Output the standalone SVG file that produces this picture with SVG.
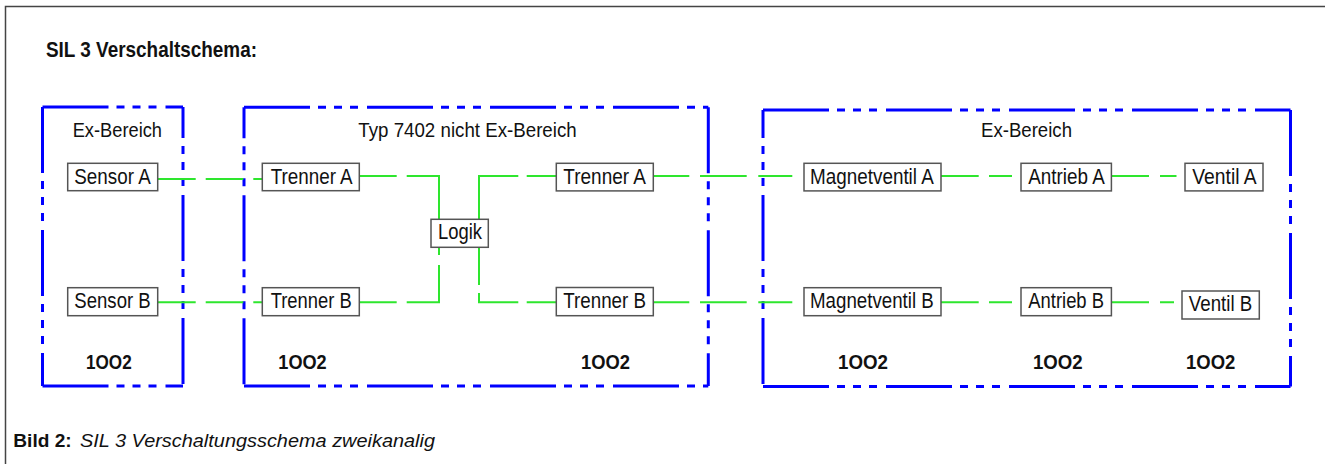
<svg xmlns="http://www.w3.org/2000/svg" width="1325" height="464" viewBox="0 0 1325 464">
<style>
text{font-family:"Liberation Sans",Arial,sans-serif;fill:#111}
.t{font-size:22px}
.r{font-size:21px}
.k{font-size:20.5px;font-weight:bold}
.node{fill:#fff;stroke:#555;stroke-width:1.5}
.zone{stroke:#0000ff;stroke-width:3;fill:none;stroke-dasharray:66 8 8 8 8 8 8 9}
.wire{stroke:#2ee62e;stroke-width:2;fill:none}
</style>
<rect x="0" y="0" width="1325" height="464" fill="#fff"/>
<path d="M5.5,464 V6.5 H1325" fill="none" stroke="#444" stroke-width="1.5"/>
<text x="46" y="56.7" style="font-size:21.5px;font-weight:bold" textLength="211" lengthAdjust="spacingAndGlyphs">SIL 3 Verschaltschema:</text>

<g id="zone-ex-left">
<line class="zone" x1="42.5" y1="107" x2="183" y2="107"/>
<line class="zone" x1="42.5" y1="107" x2="42.5" y2="386"/>
<line class="zone" x1="183" y1="107" x2="183" y2="386" stroke-dashoffset="35"/>
<line class="zone" x1="42.5" y1="386" x2="183" y2="386"/>
<text class="r" x="72.7" y="136.7" textLength="89.3" lengthAdjust="spacingAndGlyphs">Ex-Bereich</text>
<text class="k" x="86" y="369.3" textLength="45.7" lengthAdjust="spacingAndGlyphs">1OO2</text>
</g>

<g id="zone-7402">
<line class="zone" x1="244" y1="107.3" x2="708.3" y2="107.3"/>
<line class="zone" x1="244" y1="107.3" x2="244" y2="386" stroke-dashoffset="35"/>
<line class="zone" x1="708.3" y1="107.3" x2="708.3" y2="386"/>
<line class="zone" x1="244" y1="386" x2="708.3" y2="386"/>
<text class="r" x="358.3" y="136.7" textLength="218.4" lengthAdjust="spacingAndGlyphs">Typ 7402 nicht Ex-Bereich</text>
<text class="k" x="278.3" y="369.3" textLength="48.4" lengthAdjust="spacingAndGlyphs">1OO2</text>
<text class="k" x="581" y="369.3" textLength="49" lengthAdjust="spacingAndGlyphs">1OO2</text>
</g>

<g id="zone-ex-right">
<line class="zone" x1="763" y1="110" x2="1290.5" y2="110"/>
<line class="zone" x1="763" y1="110" x2="763" y2="386.5" stroke-dashoffset="38"/>
<line class="zone" x1="1290.5" y1="110" x2="1290.5" y2="386.5"/>
<line class="zone" x1="763" y1="386.5" x2="1290.5" y2="386.5"/>
<text class="r" x="981" y="136.7" textLength="91" lengthAdjust="spacingAndGlyphs">Ex-Bereich</text>
<text class="k" x="838" y="369.3" textLength="50" lengthAdjust="spacingAndGlyphs">1OO2</text>
<text class="k" x="1033" y="369.3" textLength="49.7" lengthAdjust="spacingAndGlyphs">1OO2</text>
<text class="k" x="1186" y="369.3" textLength="49.3" lengthAdjust="spacingAndGlyphs">1OO2</text>
</g>

<g id="connectors">
<path class="wire" d="M158,179 H195.7 M205.7,179 H243.3 M253.3,179 H262.3"/>
<path class="wire" d="M158,302.3 H195.7 M205.7,302.3 H243.3 M253.3,302.3 H262.3"/>
<path class="wire" d="M359.3,176 H396.7 M406.7,176 H439 V219.3"/>
<path class="wire" d="M359.3,302.3 H396.7 M406.7,302.3 H439 V265 M439,255 V247.3"/>
<path class="wire" d="M479,219.3 V176 H518.3 M526.7,176 H556.3"/>
<path class="wire" d="M479,247.3 V285 M479,293 V302.3 H518.3 M526.7,302.3 H556.3"/>
<path class="wire" d="M653.3,176 H689.3 M700,176 H746.7 M758.3,176 H792.3"/>
<path class="wire" d="M653.3,302.3 H689.3 M700,302.3 H746.7 M758.3,302.3 H792.3"/>
<path class="wire" d="M940.8,176 H978.7 M989,176 H1012"/>
<path class="wire" d="M1111.4,176 H1149 M1160,176 H1176.5"/>
<path class="wire" d="M940.8,302.3 H978.7 M989,302.3 H1012"/>
<path class="wire" d="M1111.4,302.3 H1149 M1160,302.3 H1174"/>
</g>

<g id="sensor-a"><rect class="node" x="67.7" y="163.3" width="90" height="27.4"/><text class="t" x="74.3" y="183.8" textLength="76.4" lengthAdjust="spacingAndGlyphs">Sensor A</text></g>
<g id="sensor-b"><rect class="node" x="67.7" y="287.7" width="90" height="28"/><text class="t" x="74.3" y="308" textLength="76.4" lengthAdjust="spacingAndGlyphs">Sensor B</text></g>
<g id="trenner-a1"><rect class="node" x="262.3" y="163.3" width="97" height="27.4"/><text class="t" x="270.7" y="183.8" textLength="82" lengthAdjust="spacingAndGlyphs">Trenner A</text></g>
<g id="trenner-b1"><rect class="node" x="262.3" y="287.7" width="97" height="28"/><text class="t" x="270.7" y="308" textLength="81" lengthAdjust="spacingAndGlyphs">Trenner B</text></g>
<g id="logik"><rect class="node" x="431" y="219.3" width="57.3" height="28"/><text class="t" x="438" y="239.3" textLength="44" lengthAdjust="spacingAndGlyphs">Logik</text></g>
<g id="trenner-a2"><rect class="node" x="556.3" y="163.3" width="97" height="27.6"/><text class="t" x="563.3" y="183.8" textLength="82.7" lengthAdjust="spacingAndGlyphs">Trenner A</text></g>
<g id="trenner-b2"><rect class="node" x="556.3" y="287.5" width="97" height="28.2"/><text class="t" x="563.3" y="308" textLength="82.7" lengthAdjust="spacingAndGlyphs">Trenner B</text></g>
<g id="magnetventil-a"><rect class="node" x="804" y="163.3" width="137" height="27.6"/><text class="t" x="810" y="183.8" textLength="123.8" lengthAdjust="spacingAndGlyphs">Magnetventil A</text></g>
<g id="antrieb-a"><rect class="node" x="1021" y="163.3" width="90.4" height="27.6"/><text class="t" x="1028.3" y="183.8" textLength="76.5" lengthAdjust="spacingAndGlyphs">Antrieb A</text></g>
<g id="ventil-a"><rect class="node" x="1185" y="163.3" width="78" height="27.6"/><text class="t" x="1192.3" y="183.8" textLength="64.3" lengthAdjust="spacingAndGlyphs">Ventil A</text></g>
<g id="magnetventil-b"><rect class="node" x="804" y="287.7" width="137" height="28"/><text class="t" x="810" y="308" textLength="123.8" lengthAdjust="spacingAndGlyphs">Magnetventil B</text></g>
<g id="antrieb-b"><rect class="node" x="1021" y="287.7" width="90.4" height="28"/><text class="t" x="1028.3" y="308" textLength="75.7" lengthAdjust="spacingAndGlyphs">Antrieb B</text></g>
<g id="ventil-b"><rect class="node" x="1182" y="291" width="77.3" height="28"/><text class="t" x="1188.8" y="311.3" textLength="63.4" lengthAdjust="spacingAndGlyphs">Ventil B</text></g>

<text x="13.3" y="447" style="font-size:18px;font-weight:bold" textLength="58.4" lengthAdjust="spacingAndGlyphs">Bild 2:</text>
<text x="80" y="447" style="font-size:18px;font-style:italic" textLength="355" lengthAdjust="spacingAndGlyphs">SIL 3 Verschaltungsschema zweikanalig</text>
</svg>
